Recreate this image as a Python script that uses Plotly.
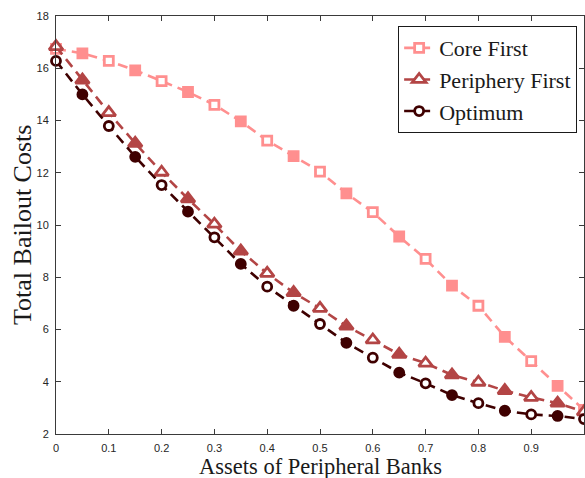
import plotly.graph_objects as go

x_vals = [0, 0.05, 0.1, 0.15, 0.2, 0.25, 0.3, 0.35, 0.4, 0.45, 0.5,
          0.55, 0.6, 0.65, 0.7, 0.75, 0.8, 0.85, 0.9, 0.95, 1.0]
core_first = [16.74, 16.57, 16.28, 15.92, 15.51, 15.09, 14.60, 13.97, 13.23, 12.64, 12.04,
              11.21, 10.49, 9.56, 8.70, 7.68, 6.91, 5.72, 4.79, 3.84, 2.92]
periphery_first = [16.83, 15.55, 14.30, 13.13, 12.02, 11.00, 10.03, 9.00, 8.15, 7.41, 6.81,
                   6.13, 5.60, 5.05, 4.71, 4.26, 3.98, 3.66, 3.40, 3.18, 2.85]
optimum = [16.28, 15.00, 13.79, 12.61, 11.53, 10.51, 9.53, 8.51, 7.64, 6.91, 6.21,
           5.49, 4.92, 4.35, 3.94, 3.49, 3.18, 2.89, 2.75, 2.69, 2.57]
x_ticks = [0, 0.1, 0.2, 0.3, 0.4, 0.5, 0.6, 0.7, 0.8, 0.9, 1]
x_tick_labels = ["0", "0.1", "0.2", "0.3", "0.4", "0.5", "0.6", "0.7", "0.8", "0.9", "1"]
y_ticks = [2, 4, 6, 8, 10, 12, 14, 16, 18]

series = [
    ("Core First", core_first, "#ff8f8f", "square", 9),
    ("Periphery First", periphery_first, "#b34545", "triangle-up", 12),
    ("Optimum", optimum, "#3f0000", "circle", 9),
]

fig = go.Figure()
for name, vals, color, sym, size in series:
    fills = ["white" if i % 2 == 0 else color for i in range(len(vals))]
    fig.add_trace(go.Scatter(
        x=x_vals, y=vals, name=name, mode="lines+markers",
        line=dict(color=color, width=2.6, dash="10px,6px"),
        marker=dict(symbol=sym, size=size, color=fills,
                    line=dict(color=color, width=2.8)),
        cliponaxis=False,
    ))

axis_common = dict(
    showgrid=False, zeroline=False, showline=True, linecolor="#3a3a3a", linewidth=1,
    mirror="ticks", ticks="inside", ticklen=5, tickcolor="#3a3a3a", automargin=False,
    ticklabelstandoff=4,
    tickfont=dict(family="Liberation Sans, Arial", size=11, color="#262626"),
)

serif = "Liberation Serif, DejaVu Serif"

fig.update_layout(
    width=585, height=478,
    margin=dict(l=56, r=1, t=16, b=44),
    paper_bgcolor="white", plot_bgcolor="white",
    xaxis=dict(range=[0, 1], tickvals=x_ticks, ticktext=x_tick_labels, **axis_common),
    yaxis=dict(range=[2, 18], tickvals=y_ticks, **axis_common),
    legend=dict(x=0.987, y=0.976, xanchor="right", yanchor="top",
                bgcolor="white", bordercolor="#1a1a1a", borderwidth=1,
                font=dict(family=serif, size=22, color="#1a1a1a"),
                tracegroupgap=0, itemwidth=30),
    showlegend=True,
    annotations=[
        dict(text="Assets of Peripheral Banks", xref="paper", yref="paper",
             x=0.5, y=-0.0789, yanchor="middle", xanchor="center",
             showarrow=False, font=dict(family=serif, size=22.5, color="#1a1a1a")),
        dict(text="Total Bailout Costs", xref="paper", yref="paper",
             x=-0.0644, y=0.5, xanchor="center", yanchor="middle", textangle=-90,
             showarrow=False, font=dict(family=serif, size=26, color="#1a1a1a")),
    ],
)

fig.write_html("out.html", config={"displayModeBar": False},
               post_script="document.body.style.margin='0px';")
